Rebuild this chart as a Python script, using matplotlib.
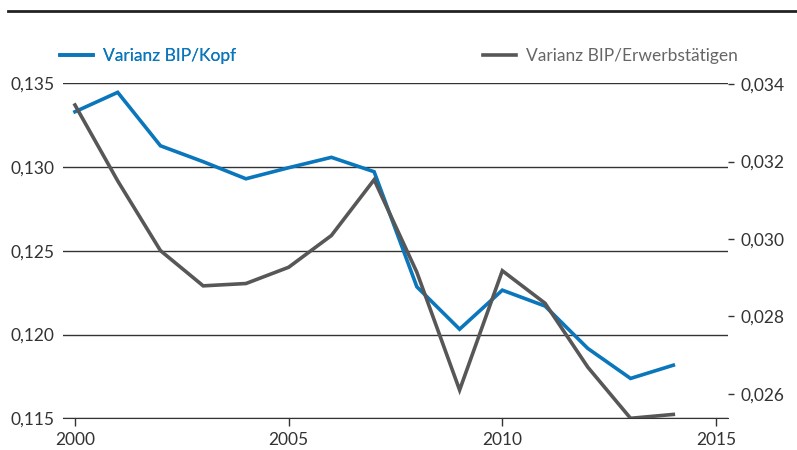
import matplotlib.pyplot as plt
from matplotlib.lines import Line2D
from matplotlib.ticker import FuncFormatter

# Werte
years = list(range(2000, 2015))
bip_kopf = [0.13330, 0.13446, 0.13127, 0.13032, 0.12930, 0.12996, 0.13058, 0.12972,
            0.12285, 0.12032, 0.12265, 0.12170, 0.11917, 0.11738, 0.11817]
bip_erwerb = [0.03346, 0.03150, 0.02970, 0.02879, 0.02885, 0.02927, 0.03009, 0.03153,
              0.02914, 0.02610, 0.02918, 0.02834, 0.02669, 0.02537, 0.02547]
left_ticks = [0.115, 0.120, 0.125, 0.130, 0.135]
right_ticks = [0.026, 0.028, 0.030, 0.032, 0.034]
x_ticks = [2000, 2005, 2010, 2015]

blue = '#0a76bb'
gray = '#575757'

plt.rcParams['font.family'] = ['Lato', 'DejaVu Sans']
plt.rcParams['font.size'] = 12.5

de = FuncFormatter(lambda v, p: f"{v:.3f}".replace('.', ','))

fig = plt.figure(figsize=(7.97, 4.5), dpi=100)
ax = fig.add_axes([63 / 797, 1 - 418.3 / 450, (728 - 63) / 797, (418.3 - 83.3) / 450])
ax2 = ax.twinx()

l1, = ax.plot(years, bip_kopf, color=blue, lw=2.6, solid_joinstyle='miter')
l2, = ax2.plot(years, bip_erwerb, color=gray, lw=2.6, solid_joinstyle='miter')

ax.set_xlim(1999.72, 2015.28)
ax.set_ylim(0.115, 0.135)
ax2.set_ylim(0.02537, 0.03402)

ax.set_xticks(x_ticks)
ax.set_yticks(left_ticks)
ax2.set_yticks(right_ticks)
ax.yaxis.set_major_formatter(de)
ax2.yaxis.set_major_formatter(de)

ax.yaxis.grid(True, color='#333333', lw=1)
ax.set_axisbelow(True)

for a in (ax, ax2):
    for s in a.spines.values():
        s.set_visible(False)
ax.spines['bottom'].set_visible(True)
ax.spines['bottom'].set_color('#333333')

ax.tick_params(axis='y', length=0, pad=6, colors='#333333')
ax.tick_params(axis='x', length=6, width=1, pad=4, colors='#333333')
ax2.tick_params(axis='y', length=4, width=1, pad=5, colors='#333333')

# Legenden
leg1 = fig.legend([l1], ['Varianz BIP/Kopf'], loc='center left',
                  bbox_to_anchor=(60 / 797, 1 - 55.7 / 450), frameon=False,
                  borderpad=0, borderaxespad=0, handlelength=1.9, handletextpad=0.6,
                  labelcolor=blue)
leg2 = fig.legend([l2], ['Varianz BIP/Erwerbstätigen'], loc='center left',
                  bbox_to_anchor=(483 / 797, 1 - 55.7 / 450), frameon=False,
                  borderpad=0, borderaxespad=0, handlelength=1.9, handletextpad=0.6,
                  labelcolor='#666666')
fig.add_artist(leg1)

fig.add_artist(Line2D([8 / 797, 1], [1 - 11 / 450] * 2, color='#222222', lw=2))

fig.savefig('out.png', dpi=100)
